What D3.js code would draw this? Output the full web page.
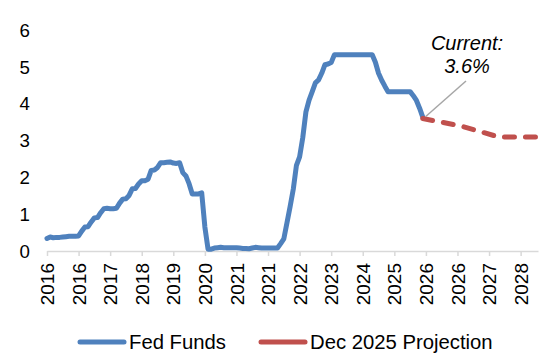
<!DOCTYPE html>
<html>
<head>
<meta charset="utf-8">
<script src="https://cdn.jsdelivr.net/npm/d3@7"></script>
<style>
  body { margin: 0; background: #fff; }
  text { font-family: "Liberation Sans", Arial, sans-serif; fill: #000; }
</style>
</head>
<body>
<div id="chart"></div>
<script>
// Effective fed funds rate, monthly, Jan 2016 - Dec 2025
const fedFunds = [
  0.34, 0.38, 0.36, 0.37, 0.37, 0.38, 0.39, 0.40, 0.40, 0.40, 0.41, 0.54, // 2016
  0.65, 0.66, 0.79, 0.90, 0.91, 1.04, 1.15, 1.16, 1.15, 1.15, 1.16, 1.30, // 2017
  1.41, 1.42, 1.51, 1.69, 1.70, 1.82, 1.91, 1.91, 1.95, 2.19, 2.20, 2.27, // 2018
  2.40, 2.40, 2.41, 2.42, 2.39, 2.38, 2.40, 2.13, 2.04, 1.83, 1.55, 1.55, // 2019
  1.55, 1.58, 0.65, 0.05, 0.05, 0.08, 0.09, 0.10, 0.09, 0.09, 0.09, 0.09, // 2020
  0.09, 0.08, 0.07, 0.07, 0.06, 0.08, 0.10, 0.09, 0.08, 0.08, 0.08, 0.08, // 2021
  0.08, 0.08, 0.20, 0.33, 0.77, 1.21, 1.68, 2.33, 2.56, 3.08, 3.78, 4.10, // 2022
  4.33, 4.57, 4.65, 4.83, 5.06, 5.08, 5.12, 5.33, 5.33, 5.33, 5.33, 5.33, // 2023
  5.33, 5.33, 5.33, 5.33, 5.33, 5.33, 5.33, 5.33, 5.13, 4.83, 4.64, 4.48, // 2024
  4.33, 4.33, 4.33, 4.33, 4.33, 4.33, 4.33, 4.33, 4.22, 4.09, 3.88, 3.64  // 2025
];

// Dec 2025 SEP median path (month index from Jan 2016)
const projMonths = [119, 131, 143, 155];
const projValues = [3.6, 3.4, 3.1, 3.1];

// x tick labels, one every 10 months starting Jan 2016
const tickLabels = ["2016", "2016", "2017", "2018", "2019", "2020", "2021", "2021",
                    "2022", "2023", "2024", "2025", "2026", "2026", "2027", "2028"];
const yTicks = [0, 1, 2, 3, 4, 5, 6];

const W = 553, H = 362;
const svg = d3.select("#chart").append("svg")
  .attr("width", W)
  .attr("height", H);

const x = d3.scaleLinear().domain([0, 155.5]).range([47, 538]);
const y = d3.scaleLinear().domain([0, 6]).range([251, 30.2]);

// X axis
const xAxis = svg.append("g")
  .attr("transform", `translate(0,${y(0)})`)
  .call(d3.axisBottom(x)
    .tickValues(tickLabels.map((d, i) => i * 10))
    .tickFormat((d, i) => tickLabels[i])
    .tickSizeInner(5)
    .tickSizeOuter(0));
xAxis.select(".domain").attr("stroke", "#d9d9d9").attr("stroke-width", 1.5);
xAxis.selectAll(".tick line").attr("stroke", "#d9d9d9").attr("stroke-width", 1.5);
xAxis.selectAll(".tick text")
  .attr("font-size", 19)
  .attr("text-anchor", "end")
  .attr("transform", "rotate(-90)")
  .attr("x", -12)
  .attr("y", 0)
  .attr("dy", "0.35em");

// Y axis labels only
svg.append("g").selectAll("text")
  .data(yTicks)
  .enter().append("text")
    .attr("x", 30)
    .attr("y", d => y(d))
    .attr("dy", "0.35em")
    .attr("text-anchor", "end")
    .attr("font-size", 18.7)
    .text(d => d);

// Fed funds line
const line = d3.line()
  .x(d => x(d[0]))
  .y(d => y(d[1]));

svg.append("path")
  .datum(fedFunds.map((v, i) => [i, v]))
  .attr("fill", "none")
  .attr("stroke", "#4f81bd")
  .attr("stroke-width", 5)
  .attr("stroke-linejoin", "round")
  .attr("stroke-linecap", "round")
  .attr("d", line);

// Projection line
svg.append("path")
  .datum(projMonths.map((m, i) => [m, projValues[i]]))
  .attr("fill", "none")
  .attr("stroke", "#c0504d")
  .attr("stroke-width", 5)
  .attr("stroke-dasharray", "10,11")
  .attr("stroke-linecap", "round")
  .attr("d", line);

// Annotation
svg.append("line")
  .attr("x1", 466).attr("y1", 81)
  .attr("x2", x(projMonths[0]) + 3).attr("y2", y(projValues[0]) - 2)
  .attr("stroke", "#a6a6a6")
  .attr("stroke-width", 1.5);

svg.append("text")
  .attr("x", 467).attr("y", 50)
  .attr("text-anchor", "middle")
  .attr("font-size", 20)
  .attr("font-style", "italic")
  .text("Current:");
svg.append("text")
  .attr("x", 467).attr("y", 73)
  .attr("text-anchor", "middle")
  .attr("font-size", 20)
  .attr("font-style", "italic")
  .text("3.6%");

// Legend
const legendItems = [
  { label: "Fed Funds", color: "#4f81bd", x: 78 },
  { label: "Dec 2025 Projection", color: "#c0504d", x: 259 }
];
const legend = svg.selectAll(".legend")
  .data(legendItems)
  .enter().append("g")
    .attr("class", "legend")
    .attr("transform", d => `translate(${d.x},342)`);

legend.append("line")
  .attr("x1", 2).attr("x2", 46)
  .attr("stroke", d => d.color)
  .attr("stroke-width", 5)
  .attr("stroke-linecap", "round");

legend.append("text")
  .attr("x", 51)
  .attr("dy", "0.35em")
  .attr("font-size", 20.3)
  .text(d => d.label);
</script>
</body>
</html>
